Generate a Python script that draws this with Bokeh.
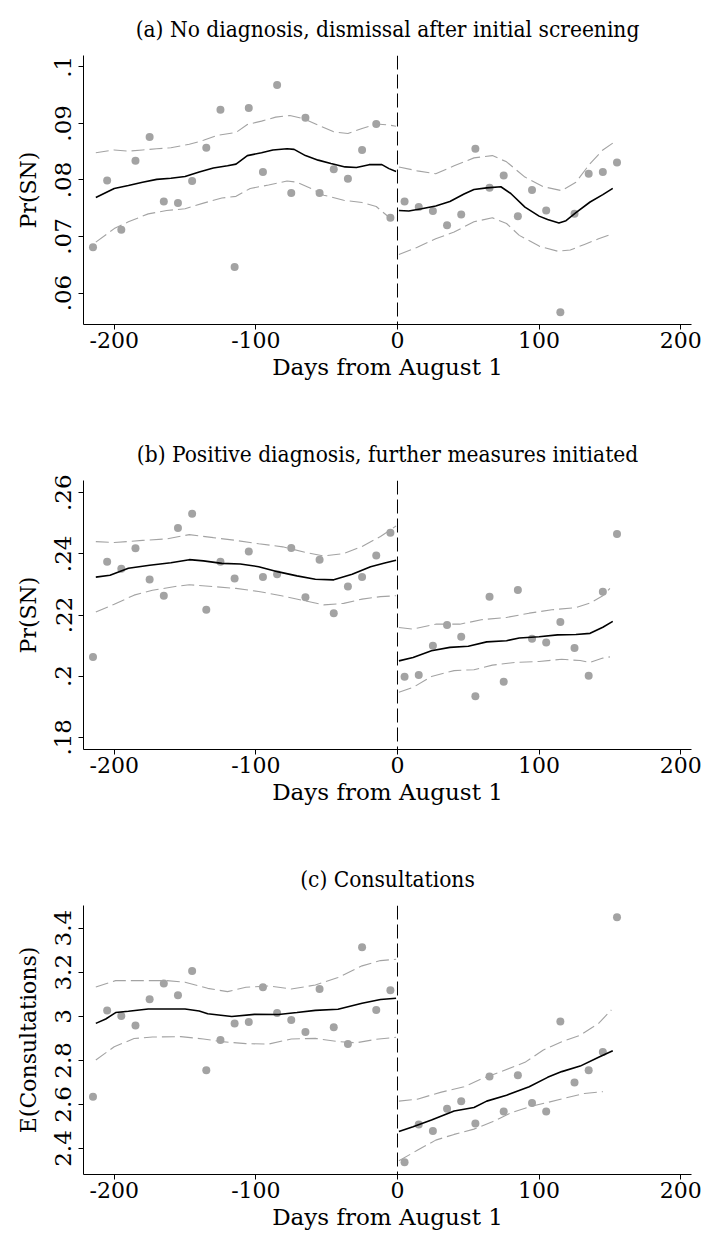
from bokeh.plotting import figure
from bokeh.layouts import column
from bokeh.models import Range1d, Span, FixedTicker
from bokeh.embed import file_html
from bokeh.resources import INLINE

# ---------------- data ----------------
days_pre = [-215, -205, -195, -185, -175, -165, -155, -145, -135, -125, -115,
            -105, -95, -85, -75, -65, -55, -45, -35, -25, -15, -5]
days_post = [5, 15, 25, 35, 45, 55, 65, 75, 85, 95, 105, 115, 125, 135, 145, 155]

# Panel (a)
a_pts_pre = [0.0681, 0.0799, 0.0712, 0.0834, 0.0876, 0.0762, 0.0759, 0.0798, 0.0857, 0.0924, 0.0646,
             0.0927, 0.0814, 0.0968, 0.0777, 0.0910, 0.0777, 0.0819, 0.0802, 0.0853, 0.0899, 0.0733]
a_pts_post = [0.0762, 0.0752, 0.0745, 0.0720, 0.0739, 0.0855, 0.0786, 0.0808,
              0.0736, 0.0782, 0.0746, 0.0566, 0.0740, 0.0811, 0.0814, 0.0831]
a_fit_pre_x = [-213, -200, -190, -180, -170, -160, -150, -140, -130, -120, -114, -106, -96, -88, -78,
               -73, -65, -56, -47, -37, -29, -20, -11, -6, -1]
a_fit_pre_y = [0.0769, 0.0785, 0.0790, 0.0796, 0.0801, 0.0803, 0.0806, 0.0814, 0.0821, 0.0825, 0.0828,
               0.0843, 0.0848, 0.0853, 0.0855, 0.0854, 0.0843, 0.0835, 0.0829, 0.0823, 0.0822, 0.0827,
               0.0827, 0.0820, 0.0815]
a_fit_post_x = [1, 8, 17, 27, 37, 47, 54, 63, 73, 80, 90, 100, 106, 114, 119, 126, 136, 145, 152]
a_fit_post_y = [0.0746, 0.0745, 0.0749, 0.0754, 0.0762, 0.0775, 0.0783, 0.0786, 0.0788, 0.0776,
                0.0752, 0.0736, 0.0730, 0.0724, 0.0728, 0.0742, 0.0761, 0.0774, 0.0785]
a_hi_pre_x = [-213, -200, -190, -180, -170, -160, -147, -137, -127, -114, -106, -96, -86, -76, -66,
              -56, -45, -35, -25, -15, -6, -1]
a_hi_pre_y = [0.0848, 0.0853, 0.0851, 0.0853, 0.0855, 0.0857, 0.0863, 0.0870, 0.0879, 0.0884, 0.0898,
              0.0904, 0.0911, 0.0914, 0.0908, 0.0897, 0.0885, 0.0882, 0.0891, 0.0899, 0.0897, 0.0895]
a_hi_post_x = [1, 14, 27, 40, 54, 67, 77, 90, 103, 116, 126, 136, 145, 152]
a_hi_post_y = [0.0823, 0.0816, 0.0811, 0.0825, 0.0839, 0.0843, 0.0832, 0.0805, 0.0788, 0.0781,
               0.0796, 0.0829, 0.0853, 0.0865]
a_lo_pre_x = [-213, -200, -190, -176, -163, -150, -137, -124, -114, -104, -91, -78, -71, -61, -52,
              -38, -25, -15, -6, -1]
a_lo_pre_y = [0.0690, 0.0714, 0.0726, 0.0740, 0.0746, 0.0749, 0.0759, 0.0768, 0.0771, 0.0785, 0.0791,
              0.0798, 0.0796, 0.0785, 0.0773, 0.0764, 0.0760, 0.0753, 0.0734, 0.0729]
a_lo_post_x = [1, 14, 27, 40, 54, 67, 77, 86, 100, 113, 122, 132, 142, 152]
a_lo_post_y = [0.0668, 0.0681, 0.0696, 0.0708, 0.0726, 0.0733, 0.0723, 0.0702, 0.0683, 0.0674,
               0.0676, 0.0686, 0.0696, 0.0705]

# Panel (b)
b_pts_pre = [0.2063, 0.2374, 0.2351, 0.2418, 0.2316, 0.2263, 0.2485, 0.2531, 0.2217, 0.2374, 0.2319,
             0.2408, 0.2324, 0.2333, 0.2419, 0.2258, 0.2381, 0.2206, 0.2293, 0.2324, 0.2395, 0.2469]
b_pts_post = [0.1998, 0.2004, 0.2099, 0.2167, 0.2129, 0.1934, 0.2260, 0.1982,
              0.2282, 0.2122, 0.2110, 0.2177, 0.2092, 0.2001, 0.2276, 0.2465]
b_fit_pre_x = [-213, -203, -190, -175, -160, -147, -137, -124, -111, -98, -84, -71, -58, -45, -32,
               -19, -9, -1]
b_fit_pre_y = [0.2324, 0.2330, 0.2353, 0.2363, 0.2371, 0.2381, 0.2377, 0.2369, 0.2367, 0.2358,
               0.2341, 0.2328, 0.2317, 0.2315, 0.2333, 0.2358, 0.2370, 0.2379]
b_fit_post_x = [1, 11, 24, 37, 50, 63, 77, 86, 100, 113, 126, 136, 145, 152]
b_fit_post_y = [0.2050, 0.2061, 0.2083, 0.2094, 0.2098, 0.2112, 0.2116, 0.2125, 0.2129, 0.2135,
                0.2136, 0.2140, 0.2160, 0.2179]
b_hi_pre_x = [-213, -200, -180, -163, -147, -130, -114, -98, -81, -65, -52, -38, -25, -12, -1]
b_hi_pre_y = [0.2440, 0.2437, 0.2444, 0.2449, 0.2463, 0.2453, 0.2444, 0.2433, 0.2423, 0.2405,
              0.2393, 0.2401, 0.2424, 0.2457, 0.2491]
b_hi_post_x = [1, 11, 27, 44, 60, 77, 93, 109, 126, 136, 145, 150]
b_hi_post_y = [0.2159, 0.2154, 0.2170, 0.2170, 0.2185, 0.2192, 0.2206, 0.2217, 0.2224, 0.2239,
               0.2263, 0.2287]
b_lo_pre_x = [-213, -200, -186, -173, -157, -147, -130, -114, -98, -81, -65, -52, -38, -25, -12, -1]
b_lo_pre_y = [0.2210, 0.2235, 0.2265, 0.2281, 0.2293, 0.2299, 0.2293, 0.2287, 0.2277, 0.2262,
              0.2246, 0.2233, 0.2238, 0.2252, 0.2260, 0.2263]
b_lo_post_x = [1, 11, 24, 40, 54, 67, 83, 100, 116, 129, 136, 145, 150]
b_lo_post_y = [0.1947, 0.1963, 0.1999, 0.2018, 0.2021, 0.2036, 0.2045, 0.2048, 0.2055, 0.2051,
               0.2045, 0.2059, 0.2063]

# Panel (c)
c_pts_pre = [2.635, 3.026, 3.002, 2.958, 3.077, 3.149, 3.096, 3.206, 2.755, 2.892, 2.967,
             2.974, 3.132, 3.015, 2.983, 2.929, 3.124, 2.950, 2.874, 3.314, 3.029, 3.118]
c_pts_post = [2.338, 2.509, 2.479, 2.580, 2.615, 2.514, 2.727, 2.568,
              2.732, 2.606, 2.568, 2.976, 2.700, 2.755, 2.838, 3.450]
c_fit_pre_x = [-213, -206, -199, -190, -176, -163, -150, -140, -134, -117, -101, -84, -71, -58, -42,
               -25, -12, -1]
c_fit_pre_y = [2.968, 2.988, 3.017, 3.023, 3.033, 3.033, 3.033, 3.024, 3.012, 2.999, 3.009, 3.008,
               3.017, 3.027, 3.032, 3.059, 3.076, 3.082]
c_fit_post_x = [1, 11, 24, 40, 54, 63, 77, 93, 106, 116, 129, 142, 152]
c_fit_post_y = [2.477, 2.499, 2.529, 2.570, 2.586, 2.615, 2.642, 2.680, 2.723, 2.749, 2.774, 2.814, 2.844]
c_hi_pre_x = [-213, -199, -180, -163, -150, -134, -120, -107, -91, -75, -58, -42, -25, -12, -1]
c_hi_pre_y = [3.133, 3.162, 3.162, 3.162, 3.155, 3.127, 3.112, 3.132, 3.138, 3.124, 3.142, 3.176,
              3.229, 3.253, 3.259]
c_hi_post_x = [1, 14, 31, 47, 60, 73, 90, 103, 116, 129, 142, 151]
c_hi_post_y = [2.615, 2.624, 2.656, 2.680, 2.718, 2.749, 2.791, 2.847, 2.885, 2.914, 2.968, 3.029]
c_lo_pre_x = [-213, -200, -186, -173, -153, -137, -124, -107, -91, -75, -58, -42, -29, -15, -1]
c_lo_pre_y = [2.802, 2.862, 2.899, 2.906, 2.908, 2.897, 2.885, 2.876, 2.874, 2.897, 2.900, 2.885,
              2.880, 2.896, 2.905]
c_lo_post_x = [1, 14, 27, 40, 54, 67, 80, 93, 106, 119, 132, 145]
c_lo_post_y = [2.344, 2.392, 2.438, 2.464, 2.488, 2.521, 2.562, 2.589, 2.609, 2.630, 2.650, 2.658]

x_ticks = [-200, -100, 0, 100, 200]
x_tick_labels = ["-200", "-100", "0", "100", "200"]
a_yticks = [0.06, 0.07, 0.08, 0.09, 0.1]
a_ylabels = [".06", ".07", ".08", ".09", ".1"]
b_yticks = [0.18, 0.2, 0.22, 0.24, 0.26]
b_ylabels = [".18", ".2", ".22", ".24", ".26"]
c_yticks = [2.4, 2.6, 2.8, 3.0, 3.2, 3.4]
c_ylabels = ["2.4", "2.6", "2.8", "3", "3.2", "3.4"]

titles = ["(a) No diagnosis, dismissal after initial screening",
          "(b) Positive diagnosis, further measures initiated",
          "(c) Consultations"]
y_titles = ["Pr(SN)", "Pr(SN)", "E(Consultations)"]
x_title = "Days from August 1"

# ---------------- styling ----------------
TITLE_FONT = "DejaVu Serif Condensed"
TEXT_FONT = "DejaVu Serif"
DOT = "#a3a3a3"
CI = "#a3a3a3"


def make_panel(title, ytitle, yrange, yticks, ylabels, pts, lines, bottom_border):
    p = figure(frame_width=608, frame_height=269,
               x_range=Range1d(-221.7, 207.6), y_range=Range1d(*yrange),
               output_backend="svg", toolbar_location=None,
               min_border_left=83, min_border_right=18, min_border_top=54,
               min_border_bottom=bottom_border, title=title)
    p.title.align = "center"
    p.title.text_font = TITLE_FONT
    p.title.text_font_size = "22.5px"
    p.title.text_font_style = "normal"
    p.title.text_color = "black"
    p.title.standoff = 27
    p.outline_line_color = None
    p.xgrid.visible = False
    p.ygrid.visible = False
    p.background_fill_color = "white"
    p.border_fill_color = "white"

    p.xaxis.ticker = FixedTicker(ticks=x_ticks)
    p.xaxis.major_label_overrides = {t: l for t, l in zip(x_ticks, x_tick_labels)}
    p.yaxis.ticker = FixedTicker(ticks=yticks)
    p.yaxis.major_label_overrides = {t: l for t, l in zip(yticks, ylabels)}
    p.xaxis.axis_label = x_title
    p.yaxis.axis_label = ytitle
    for ax in (p.xaxis, p.yaxis):
        ax.axis_line_color = "black"
        ax.axis_line_width = 1
        ax.major_tick_line_color = "black"
        ax.major_tick_out = 5
        ax.major_tick_in = 0
        ax.minor_tick_line_color = None
        ax.major_label_text_color = "black"
        ax.axis_label_text_color = "black"
        ax.axis_label_text_font_style = "normal"
    p.xaxis.major_label_text_font = TEXT_FONT
    p.xaxis.major_label_text_font_size = "22px"
    p.xaxis.major_label_standoff = 2
    p.xaxis.axis_label_text_font = TEXT_FONT
    p.xaxis.axis_label_text_font_size = "23px"
    p.xaxis.axis_label_standoff = 3
    p.yaxis.major_label_text_font = TEXT_FONT
    p.yaxis.major_label_text_font_size = "23px"
    p.yaxis.major_label_orientation = "vertical"
    p.yaxis.major_label_standoff = 7
    p.yaxis.axis_label_text_font = TEXT_FONT
    p.yaxis.axis_label_text_font_size = "22px"
    p.yaxis.axis_label_standoff = 12

    p.add_layout(Span(location=0, dimension="height", line_color="black",
                      line_width=1, line_dash="14 5"))

    (lo_pre_x, lo_pre_y, lo_post_x, lo_post_y,
     hi_pre_x, hi_pre_y, hi_post_x, hi_post_y,
     fit_pre_x, fit_pre_y, fit_post_x, fit_post_y) = lines
    for xs, ys in ((lo_pre_x, lo_pre_y), (lo_post_x, lo_post_y),
                   (hi_pre_x, hi_pre_y), (hi_post_x, hi_post_y)):
        p.line(xs, ys, line_color=CI, line_width=1.1, line_dash="13 5")
    p.scatter(days_pre, pts[0], size=8, fill_color=DOT, line_color=None)
    p.scatter(days_post, pts[1], size=8, fill_color=DOT, line_color=None)
    p.line(fit_pre_x, fit_pre_y, line_color="black", line_width=1.6)
    p.line(fit_post_x, fit_post_y, line_color="black", line_width=1.6)
    return p


p1 = make_panel(titles[0], y_titles[0], (0.05444, 0.1020), a_yticks, a_ylabels,
                (a_pts_pre, a_pts_post),
                (a_lo_pre_x, a_lo_pre_y, a_lo_post_x, a_lo_post_y,
                 a_hi_pre_x, a_hi_pre_y, a_hi_post_x, a_hi_post_y,
                 a_fit_pre_x, a_fit_pre_y, a_fit_post_x, a_fit_post_y), 101)
p2 = make_panel(titles[1], y_titles[1], (0.1760, 0.2640), b_yticks, b_ylabels,
                (b_pts_pre, b_pts_post),
                (b_lo_pre_x, b_lo_pre_y, b_lo_post_x, b_lo_post_y,
                 b_hi_pre_x, b_hi_pre_y, b_hi_post_x, b_hi_post_y,
                 b_fit_pre_x, b_fit_pre_y, b_fit_post_x, b_fit_post_y), 101)
p3 = make_panel(titles[2], y_titles[2], (2.282, 3.503), c_yticks, c_ylabels,
                (c_pts_pre, c_pts_post),
                (c_lo_pre_x, c_lo_pre_y, c_lo_post_x, c_lo_post_y,
                 c_hi_pre_x, c_hi_pre_y, c_hi_post_x, c_hi_post_y,
                 c_fit_pre_x, c_fit_pre_y, c_fit_post_x, c_fit_post_y), 62)

layout = column(p1, p2, p3, spacing=0)
open("out.html", "w").write(file_html(layout, INLINE))
